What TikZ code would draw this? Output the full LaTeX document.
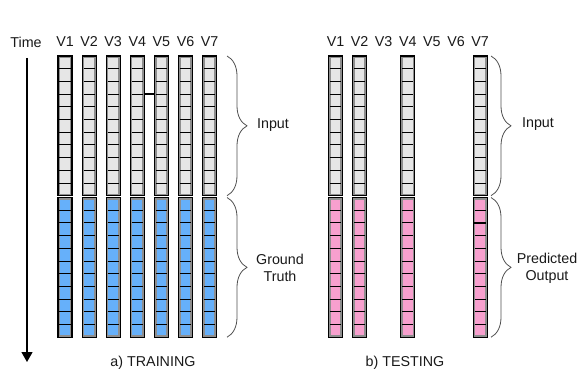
\documentclass[tikz,border=0pt]{standalone}
\usepackage{fontspec}
\setmainfont{Liberation Sans}
\usetikzlibrary{arrows.meta,decorations.pathreplacing}
\definecolor{blau}{HTML}{66B0FA}
\definecolor{rosa}{HTML}{F7A0CE}
\definecolor{hell}{HTML}{E6E6E6}
\definecolor{rand}{HTML}{8E8E8E}
\definecolor{grau}{HTML}{505050}
\tikzset{
  zelle/.style={black,line width=0.9pt},
  rahmen/.style={draw=black,line width=1.2pt},
  band/.style={draw=rand,line width=1.9pt},
  klammer/.style={decorate,decoration={brace,amplitude=20pt},grau,line width=0.8pt},
  zeit/.style={-{Triangle[length=10pt,width=11pt]},black,line width=1.3pt},
  txt/.style={font=\fontsize{14.3}{17}\selectfont,text=black!90},
}
% one column of 11 cells: x-centre, top, fill
\newcommand{\saeule}[3]{%
  \fill[#3] (#1-7,#2) rectangle (#1+7,#2+139.7);
  \draw[band] (#1-5.8,#2+1.1) rectangle (#1+5.8,#2+138.6);
  \foreach \k in {1,...,10}
    \draw[zelle] (#1-5.6,#2+\k*12.7) -- (#1+5.6,#2+\k*12.7);
  \draw[rahmen] (#1-7,#2) rectangle (#1+7,#2+139.7);
}

\begin{document}
\begin{tikzpicture}[x=1pt,y=-1pt]
  \useasboundingbox (0,0) rectangle (578,374);
  % time axis
  \node[txt] (time) at (26,42) {Time};
  \coordinate (t0) at (27,58);
  \coordinate (t1) at (27,362);
  \draw[zeit] (t0) -- (t1);
  % training
  \foreach \i [evaluate=\i as \cx using 65+24.1*(\i-1)] in {1,...,7} {
    \node[txt] (v\i) at (\cx,42) {V\i};
    \saeule{\cx}{56}{hell}
    \saeule{\cx}{197.5}{blau}
  }
  \draw[zelle,line width=1.2pt] (144.3,94.1) -- (154.4,94.1);
  \coordinate (a0) at (227,56);
  \coordinate (a1) at (227,195.7);
  \coordinate (a2) at (227,197.5);
  \coordinate (a3) at (227,337.2);
  \draw[klammer] (a0) -- (a1);
  \draw[klammer] (a2) -- (a3);
  \node[txt] (inA) at (273,125) {Input};
  \node[txt,align=center] (gt) at (280,268) {Ground\\Truth};
  \node[txt] (capA) at (153,363) {a) TRAINING};
  % testing
  \foreach \i [evaluate=\i as \cx using 335.5+24.1*(\i-1)] in {1,...,7}
    \node[txt] (w\i) at (\cx,42) {V\i};
  \foreach \i [evaluate=\i as \cx using 335.5+24.1*(\i-1)] in {1,2,4,7} {
    \saeule{\cx}{56}{hell}
    \saeule{\cx}{197.5}{rosa}
  }
  \draw[zelle,line width=1.4pt] (329.5,157.6) -- (341.5,157.6);
  \draw[zelle,line width=1.4pt] (353.6,157.6) -- (365.6,157.6);
  \draw[zelle,line width=1.4pt] (474.1,222.9) -- (486.1,222.9);
  \coordinate (b0) at (491,56);
  \coordinate (b1) at (491,195.7);
  \coordinate (b2) at (491,197.5);
  \coordinate (b3) at (491,337.2);
  \draw[klammer] (b0) -- (b1);
  \draw[klammer] (b2) -- (b3);
  \node[txt] (inB) at (538,124) {Input};
  \node[txt,align=center] (po) at (547,268) {Predicted\\Output};
  \node[txt] (capB) at (405,363) {b) TESTING};
\end{tikzpicture}
\end{document}
